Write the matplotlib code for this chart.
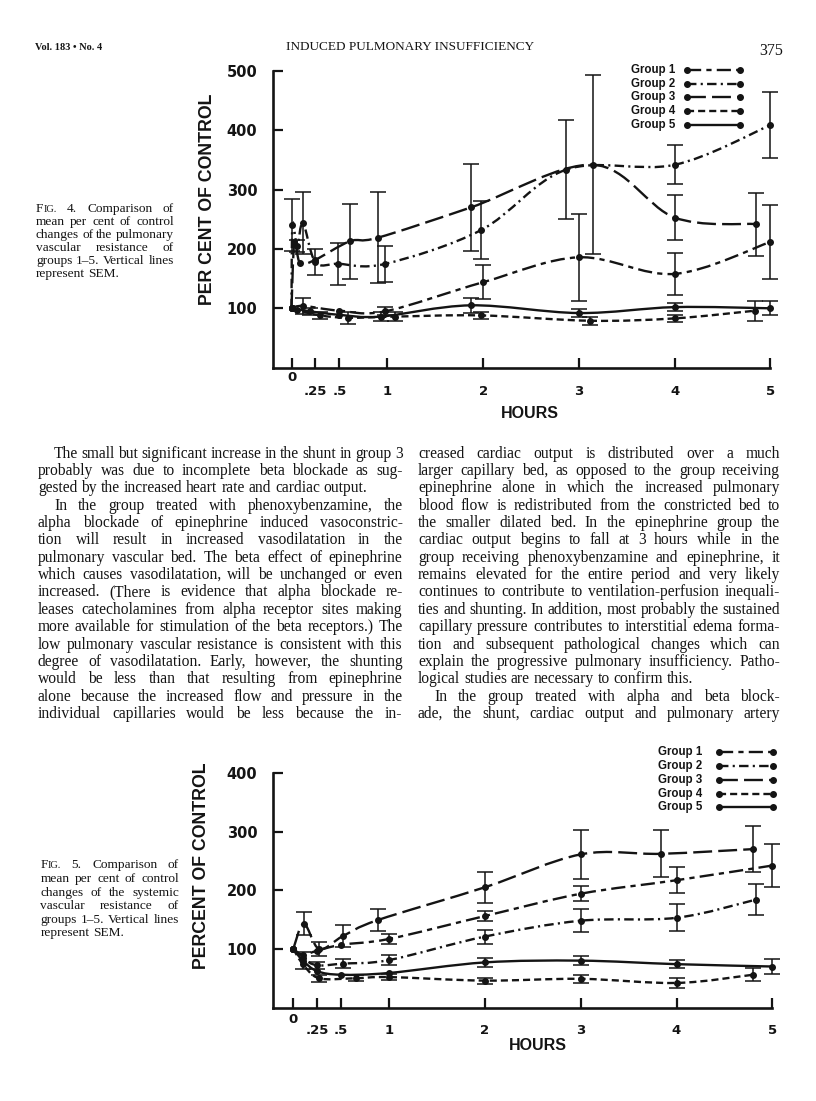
import matplotlib
matplotlib.use("Agg")
import matplotlib.pyplot as plt
from matplotlib import font_manager
from matplotlib.font_manager import FontProperties
from matplotlib.lines import Line2D
from matplotlib.path import Path
from matplotlib.patches import PathPatch
import numpy as np

# ---------------- data ----------------
# Fig. 4: pulmonary vascular resistance, per cent of control
f4_g1_hours = [0, 0.12, 0.5, 0.98, 2.0, 3.0, 4.0, 5.0]
f4_g1_pct = [100, 104, 96, 95, 144, 186, 158, 212]
f4_g1_sem = [0, 14, 0, 7, 29, 73, 35, 62]

f4_g2_hours = [0, 0.01, 0.06, 0.12, 0.25, 0.49, 0.98, 1.98, 2.87, 4.0, 5.0]
f4_g2_pct = [100, 240, 205, 244, 178, 175, 175, 232, 334, 342, 409]
f4_g2_sem = [0, 44, 10, 52, 22, 35, 30, 49, 84, 33, 55]

f4_g3_hours = [0, 0.03, 0.09, 0.25, 0.61, 0.9, 1.87, 3.15, 4.0, 4.85]
f4_g3_pct = [100, 212, 176, 182, 213, 219, 270, 342, 253, 242]
f4_g3_sem = [0, 0, 0, 0, 63, 77, 73, 151, 38, 53]

f4_g4_hours = [0, 0.06, 0.3, 0.59, 1.08, 1.98, 3.12, 4.0, 4.84]
f4_g4_pct = [100, 97, 88, 84, 86, 88, 79, 83, 96]
f4_g4_sem = [0, 0, 6, 10, 7, 6, 7, 6, 17]

f4_g5_hours = [0, 0.19, 0.5, 0.93, 1.87, 3.0, 4.0, 5.0]
f4_g5_pct = [100, 95, 89, 86, 105, 92, 102, 100]
f4_g5_sem = [0, 6, 0, 8, 13, 6, 7, 12]

# Fig. 5: systemic vascular resistance, percent of control
f5_g1_hours = [0, 0.1, 0.25, 0.5, 1.0, 2.0, 3.0, 4.0, 5.0]
f5_g1_pct = [100, 90, 97, 107, 117, 156, 194, 217, 242]
f5_g1_sem = [0, 0, 0, 0, 8, 8, 13, 22, 36]

f5_g2_hours = [0, 0.1, 0.25, 0.52, 1.0, 2.0, 3.0, 4.0, 4.83]
f5_g2_pct = [100, 84, 72, 75, 81, 121, 148, 153, 184]
f5_g2_sem = [0, 0, 6, 7, 8, 12, 20, 23, 27]

f5_g3_hours = [0, 0.11, 0.27, 0.52, 0.88, 2.0, 3.0, 3.84, 4.8]
f5_g3_pct = [100, 143, 100, 122, 149, 205, 261, 262, 270]
f5_g3_sem = [0, 20, 12, 18, 19, 26, 42, 40, 39]

f5_g4_hours = [0, 0.1, 0.27, 0.65, 1.0, 2.0, 3.0, 4.0, 4.8]
f5_g4_pct = [100, 74, 50, 50, 52, 46, 49, 42, 56]
f5_g4_sem = [0, 0, 6, 5, 5, 5, 7, 8, 11]

f5_g5_hours = [0, 0.1, 0.25, 0.5, 1.0, 2.0, 3.0, 4.0, 5.0]
f5_g5_pct = [100, 80, 62, 56, 59, 77, 80, 74, 70]
f5_g5_sem = [0, 14, 0, 0, 0, 7, 8, 7, 12]

group_names = ["Group 1", "Group 2", "Group 3", "Group 4", "Group 5"]
hour_ticks = [0, 0.25, 0.5, 1, 2, 3, 4, 5]
hour_labels = ["0", ".25", ".5", "1", "2", "3", "4", "5"]
f4_yticks = [100, 200, 300, 400, 500]
f5_yticks = [100, 200, 300, 400]

header_left = "Vol. 183 \u2022 No. 4"
header_mid = "INDUCED PULMONARY INSUFFICIENCY"
page_no = "375"

cap4 = ["FIG. 4. Comparison of", "mean per cent of control",
        "changes of the pulmonary", "vascular resistance of",
        "groups 1\u20135. Vertical lines", "represent SEM."]
cap5 = ["FIG. 5. Comparison of", "mean per cent of control",
        "changes of the systemic", "vascular resistance of",
        "groups 1\u20135. Vertical lines", "represent SEM."]

col_left = [
    "The small but significant increase in the shunt in group 3",
    "probably was due to incomplete beta blockade as sug-",
    "gested by the increased heart rate and cardiac output.",
    "In the group treated with phenoxybenzamine, the",
    "alpha blockade of epinephrine induced vasoconstric-",
    "tion will result in increased vasodilatation in the",
    "pulmonary vascular bed. The beta effect of epinephrine",
    "which causes vasodilatation, will be unchanged or even",
    "increased. (There is evidence that alpha blockade re-",
    "leases catecholamines from alpha receptor sites making",
    "more available for stimulation of the beta receptors.) The",
    "low pulmonary vascular resistance is consistent with this",
    "degree of vasodilatation. Early, however, the shunting",
    "would be less than that resulting from epinephrine",
    "alone because the increased flow and pressure in the",
    "individual capillaries would be less because the in-",
]
col_right = [
    "creased cardiac output is distributed over a much",
    "larger capillary bed, as opposed to the group receiving",
    "epinephrine alone in which the increased pulmonary",
    "blood flow is redistributed from the constricted bed to",
    "the smaller dilated bed. In the epinephrine group the",
    "cardiac output begins to fall at 3 hours while in the",
    "group receiving phenoxybenzamine and epinephrine, it",
    "remains elevated for the entire period and very likely",
    "continues to contribute to ventilation-perfusion inequali-",
    "ties and shunting. In addition, most probably the sustained",
    "capillary pressure contributes to interstitial edema forma-",
    "tion and subsequent pathological changes which can",
    "explain the progressive pulmonary insufficiency. Patho-",
    "logical studies are necessary to confirm this.",
    "In the group treated with alpha and beta block-",
    "ade, the shunt, cardiac output and pulmonary artery",
]

# ---------------- styling ----------------
W, H = 816, 1101
INK = "#141414"
SANS = "Liberation Sans"
SERIF = "Liberation Serif"
_names = {f.name for f in font_manager.fontManager.ttflist}
NARROW = "Liberation Sans Narrow" if "Liberation Sans Narrow" in _names else SANS

# dash patterns in units of line width
group_dashes = [(6.0, 2.2, 2.2, 2.2), (4.0, 1.8, 0.9, 1.8), (8.0, 2.6), (3.0, 1.7), None]
LW = 1.7

fig = plt.figure(figsize=(W / 100, H / 100), dpi=100)
fig.patch.set_facecolor("white")


def fx(x):
    return x / W


def fy(y):
    return 1 - y / H


def smooth_path(xs, ys):
    # Catmull-Rom through the measured points, as cubic Bezier segments
    pts = np.column_stack([xs, ys]).astype(float)
    n = len(pts)
    verts = [pts[0]]
    codes = [Path.MOVETO]
    for i in range(n - 1):
        p0 = pts[i - 1] if i > 0 else pts[i]
        p1 = pts[i]
        p2 = pts[i + 1]
        p3 = pts[i + 2] if i + 2 < n else pts[i + 1]
        verts += [p1 + (p2 - p0) / 6, p2 - (p3 - p1) / 6, p2]
        codes += [Path.CURVE4] * 3
    return Path(verts, codes)


def make_axes(x0_px, y0_px, hr_px, unit_px, left_px, top_px, right_px):
    ax = fig.add_axes([fx(left_px), fy(y0_px), (right_px - left_px) / W, (y0_px - top_px) / H])
    ax.set_xlim((left_px - x0_px) / hr_px, (right_px - x0_px) / hr_px)
    ax.set_ylim(0, (y0_px - top_px) / unit_px)
    ax.patch.set_alpha(0)
    return ax


def draw_chart(ax, series, yticks, lab0_off, lab_off):
    for (hrs, pct, sem), dashes in zip(series, group_dashes):
        ls = "-" if dashes is None else (0, dashes)
        ax.add_patch(PathPatch(smooth_path(hrs, pct), fill=False, lw=LW,
                               linestyle=ls, edgecolor=INK, capstyle="butt",
                               clip_on=False))
        ax.plot(hrs, pct, "o", ms=4, color=INK, clip_on=False)
        h = np.array(hrs, float)
        p = np.array(pct, float)
        s = np.array(sem, float)
        k = s > 0
        ax.errorbar(h[k], p[k], yerr=s[k], fmt="none", ecolor=INK,
                    elinewidth=1.1, capsize=5.5, capthick=1.1, clip_on=False)

    for side in ("top", "right"):
        ax.spines[side].set_visible(False)
    for side in ("left", "bottom"):
        ax.spines[side].set_linewidth(1.9)
        ax.spines[side].set_color(INK)
        ax.spines[side].set_capstyle("projecting")
    ax.spines["left"].set_bounds(0, yticks[-1])
    ax.spines["bottom"].set_bounds(ax.get_xlim()[0], 5)

    ax.set_yticks(yticks)
    ax.set_yticklabels([str(v) for v in yticks])
    ax.tick_params(axis="y", direction="in", length=7, width=1.6, pad=11,
                   labelsize=10.5, colors=INK)
    for lab in ax.get_yticklabels():
        lab.set_fontweight("bold")
        lab.set_family("DejaVu Sans")
    ax.set_xticks(hour_ticks)
    ax.set_xticklabels([])
    ax.tick_params(axis="x", direction="in", length=7, width=1.6, colors=INK)
    for t, lab in zip(hour_ticks, hour_labels):
        off = lab0_off if lab == "0" else lab_off
        ax.annotate(lab, xy=(t, 0), xycoords=("data", "axes fraction"),
                    xytext=(0, -off * 72 / 100), textcoords="offset points",
                    ha="center", va="center", fontsize=9.5, fontweight="bold",
                    family="DejaVu Sans", color=INK, annotation_clip=False)


def draw_legend(text_x, line_x0, line_x1, rows):
    for name, y, dashes in zip(group_names, rows, group_dashes):
        fig.text(fx(text_x), fy(y), name, ha="left", va="center", fontsize=8.3,
                 fontweight="bold", family=SANS, color=INK)
        ls = "-" if dashes is None else (0, dashes)
        fig.add_artist(Line2D([fx(line_x0), fx(line_x1)], [fy(y), fy(y)],
                              transform=fig.transFigure, lw=LW, linestyle=ls,
                              color=INK, marker="o", ms=4, dash_capstyle="butt"))


# ---------------- Fig. 4 ----------------
ax4 = make_axes(291.5, 367.6, 95.8, 0.593, 272.7, 60, 795)
draw_chart(ax4, [(f4_g1_hours, f4_g1_pct, f4_g1_sem),
                 (f4_g2_hours, f4_g2_pct, f4_g2_sem),
                 (f4_g3_hours, f4_g3_pct, f4_g3_sem),
                 (f4_g4_hours, f4_g4_pct, f4_g4_sem),
                 (f4_g5_hours, f4_g5_pct, f4_g5_sem)], f4_yticks, 10, 23.5)
draw_legend(631, 687, 740, [70, 83.5, 97, 111, 125])
fig.text(fx(207), fy(199), "PER CENT OF CONTROL", rotation=90, ha="center",
         va="center", fontsize=12.8, fontweight="bold", family=SANS, color=INK)
fig.text(fx(530), fy(414), "HOURS", ha="center", va="center", fontsize=11.5,
         fontweight="bold", family=NARROW, color=INK)

# ---------------- Fig. 5 ----------------
ax5 = make_axes(293.3, 1007.6, 95.8, 0.587, 272.7, 760, 795)
draw_chart(ax5, [(f5_g1_hours, f5_g1_pct, f5_g1_sem),
                 (f5_g2_hours, f5_g2_pct, f5_g2_sem),
                 (f5_g3_hours, f5_g3_pct, f5_g3_sem),
                 (f5_g4_hours, f5_g4_pct, f5_g4_sem),
                 (f5_g5_hours, f5_g5_pct, f5_g5_sem)], f5_yticks, 12, 22.5)
draw_legend(658, 719, 773, [751.5, 765.5, 779.5, 793.5, 807])
fig.text(fx(202), fy(866), "PERCENT OF CONTROL", rotation=90, ha="center",
         va="center", fontsize=12.8, fontweight="bold", family=SANS, color=INK)
fig.text(fx(538), fy(1045), "HOURS", ha="center", va="center", fontsize=11.5,
         fontweight="bold", family=NARROW, color=INK)

# ---------------- page text ----------------
renderer = fig.canvas.get_renderer()


def parts_of(word, size):
    if word.startswith("FIG."):
        return [("F", size), ("IG.", size * 0.78)]
    return [(word, size)]


def width_of(s, size):
    prop = FontProperties(family=SERIF, size=size)
    return renderer.get_text_width_height_descent(s, prop, ismath=False)[0]


def word_width(word, size):
    return sum(width_of(s, z) for s, z in parts_of(word, size))


def set_block(lines, x0, x1, ys, size, indented=(), ragged=(), indent=16):
    for i, (line, yc) in enumerate(zip(lines, ys)):
        words = line.split()
        start = x0 + (indent if i in indented else 0)
        avail = x1 - start
        # each line keeps the base size unless its words cannot fit with a small gap
        need = sum(word_width(w, size) for w in words) + (len(words) - 1) * 0.16 * size * 100 / 72
        fit = size if need <= avail else size * avail / need
        em = fit * 100 / 72
        widths = [word_width(w, fit) for w in words]
        if i in ragged or len(words) < 2:
            gap = 0.25 * em
        else:
            gap = (avail - sum(widths)) / (len(words) - 1)
        x = start
        yb = yc + 0.3 * size * 100 / 72
        for w, ww in zip(words, widths):
            xx = x
            for s, z in parts_of(w, fit):
                fig.text(fx(xx), fy(yb), s, ha="left", va="baseline", fontsize=z,
                         family=SERIF, color=INK)
                xx += width_of(s, z)
            x += ww + gap


fig.text(fx(35), fy(47), header_left, ha="left", va="center", fontsize=7.5,
         fontweight="bold", family=SERIF, color=INK)
fig.text(fx(410), fy(47.5), header_mid, ha="center", va="center", fontsize=9.5,
         family=SERIF, color=INK)
fig.text(fx(783), fy(51), page_no, ha="right", va="center", fontsize=11.5,
         family=SERIF, color=INK)

set_block(cap4, 36, 174, [207.7, 221, 234.2, 247.4, 260.4, 273.4], 9.6, ragged=(5,))
set_block(cap5, 40.5, 179, [864.3, 878, 891.8, 905.4, 919, 932.4], 9.6, ragged=(5,))

body_y = [453 + 17.35 * k for k in range(16)]
set_block(col_left, 38, 402.5, body_y, 11.2, indented=(0, 3), ragged=(2,))
set_block(col_right, 418, 780, body_y, 11.2, indented=(14,), ragged=(13,))

fig.savefig("out.png", dpi=100, facecolor="white")
